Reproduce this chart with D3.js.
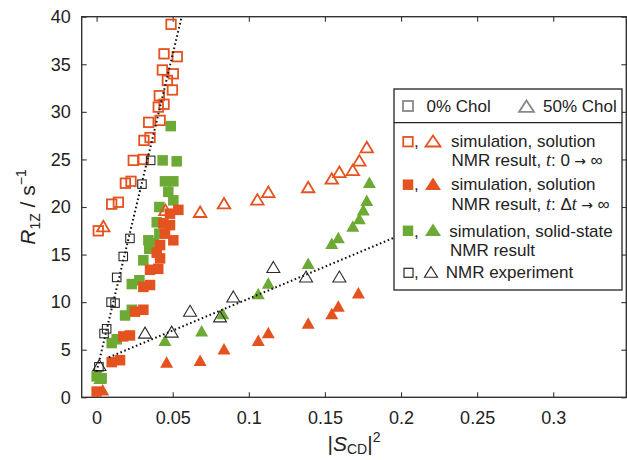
<!DOCTYPE html>
<html><head><meta charset="utf-8">
<script src="https://cdn.jsdelivr.net/npm/d3@7"></script>
<style>
body{margin:0;background:#fff}
svg{display:block}
text{font-family:"Liberation Sans",Arial,Helvetica,sans-serif;fill:#222}
</style>
</head><body>
<svg id="c" width="627" height="460"></svg>
<script>
// ---------- data ----------
const xTicks = [0, 0.05, 0.1, 0.15, 0.2, 0.25, 0.3];
const xTickLabels = ["0", "0.05", "0.1", "0.15", "0.2", "0.25", "0.3"];
const yTicks = [0, 5, 10, 15, 20, 25, 30, 35, 40];

// 0% Chol (squares)
const simSolution0_chol0 = [[0.0011,17.5],[0.0099,20.3],[0.0143,20.5],[0.0189,22.5],[0.0226,22.7],[0.0241,24.9],[0.0307,25.0],[0.0311,27.0],[0.0351,27.3],[0.0342,28.9],[0.0417,29.1],[0.0405,30.5],[0.0443,30.8],[0.0412,31.7],[0.0498,32.3],[0.0465,33.3],[0.0504,34.0],[0.0432,34.4],[0.0443,36.1],[0.0530,35.8],[0.0489,39.2]];
const simSolutionDt_chol0 = [[0.0,0.6],[0.0099,3.7],[0.0154,3.9],[0.0175,6.4],[0.0219,6.5],[0.0252,9.0],[0.0307,9.2],[0.0307,11.6],[0.0351,11.8],[0.0351,13.4],[0.0405,13.5],[0.0417,14.6],[0.0395,15.2],[0.0417,16.0],[0.0449,17.2],[0.0504,16.5],[0.0438,18.3],[0.0482,18.1],[0.0482,19.3],[0.0537,19.7]];
const simSolid_chol0 = [[0.0,2.2],[0.0033,2.0],[0.0099,5.7],[0.0132,6.1],[0.0187,8.6],[0.0231,9.2],[0.0231,11.9],[0.0281,12.3],[0.0307,14.4],[0.0346,15.6],[0.034,16.5],[0.0377,16.2],[0.0412,17.2],[0.0395,18.4],[0.0412,20.0],[0.0504,20.7],[0.0471,21.6],[0.0449,22.7],[0.0504,22.7],[0.0434,24.9],[0.0526,24.8],[0.0487,28.5]];
const nmrExp_chol0 = [[0.0015,3.2],[0.0049,6.7],[0.0066,7.2],[0.0095,10.0],[0.0121,9.9],[0.0132,12.6],[0.0175,14.8],[0.0219,16.7],[0.0298,22.4],[0.0355,24.9]];

// 50% Chol (triangles)
const simSolution0_chol50 = [[0.0044,18.0],[0.0452,19.7],[0.068,19.5],[0.0837,20.4],[0.1056,20.8],[0.1128,21.6],[0.139,22.1],[0.1545,23.0],[0.1595,23.7],[0.1683,23.9],[0.1726,24.9],[0.1775,26.3]];
const simSolutionDt_chol50 = [[0.004,0.8],[0.046,3.7],[0.068,3.9],[0.0837,5.1],[0.1062,6.0],[0.1128,6.8],[0.139,7.8],[0.1545,8.8],[0.1588,9.6],[0.172,11.0]];
const simSolid_chol50 = [[0.0022,2.0],[0.0449,6.0],[0.069,7.0],[0.0829,8.8],[0.1062,10.9],[0.1128,12.0],[0.139,14.1],[0.1545,16.2],[0.1588,16.8],[0.1683,18.0],[0.1726,18.8],[0.1752,19.7],[0.1775,20.7],[0.1792,22.6]];
const nmrExp_chol50 = [[0.0018,3.4],[0.0318,6.8],[0.0493,6.9],[0.0614,9.1],[0.0811,8.5],[0.0898,10.6],[0.1161,13.7],[0.1376,12.7],[0.1595,12.7]];

// dotted linear fits
const fit_chol0 = [[0.0,2.7],[0.0559,40]];
const fit_chol50 = [[0.008,4.2],[0.30,23.8]];

// ---------- layout ----------
const ORANGE = "#E4531F", GREEN = "#6CAA35", BLACK = "#2a2a2a";
const svg = d3.select("#c");
const xDom = [-0.0098, 0.348], yDom = [0, 40];
const x = d3.scaleLinear().domain(xDom).range([81.7, 626.3]);
const y = d3.scaleLinear().domain(yDom).range([397.3, 16.7]);
const L = x(xDom[0]), R = x(xDom[1]), T = y(yDom[1]), B = y(yDom[0]);

// axes (inward ticks)
const axStyle = g => {
  g.select(".domain").remove();
  g.selectAll(".tick line").attr("stroke", "#333").attr("stroke-width", 1.1);
  g.selectAll(".tick text").style("font-size", "18px").attr("fill", "#222");
};
svg.append("g").attr("transform", `translate(0,${B})`)
  .call(d3.axisBottom(x).tickValues(xTicks).tickSize(-5).tickPadding(14)
    .tickFormat((d, i) => xTickLabels[i])).call(axStyle);
svg.append("g").attr("transform", `translate(0,${T})`)
  .call(d3.axisTop(x).tickValues(xTicks).tickSize(-5).tickFormat("")).call(axStyle);
svg.append("g").attr("transform", `translate(${L},0)`)
  .call(d3.axisLeft(y).tickValues(yTicks).tickSize(-5).tickPadding(11)).call(axStyle);
svg.append("g").attr("transform", `translate(${R},0)`)
  .call(d3.axisRight(y).tickValues(yTicks).tickSize(-5).tickFormat("")).call(axStyle);

svg.append("rect").attr("x", L).attr("y", T).attr("width", R - L).attr("height", B - T)
  .attr("fill", "none").attr("stroke", "#333").attr("stroke-width", 1.4);

// ---------- markers ----------
const plot = svg.append("g");
function squares(data, s, fill, stroke, sw) {
  plot.append("g").selectAll("rect").data(data).join("rect")
    .attr("x", d => x(d[0]) - s / 2).attr("y", d => y(d[1]) - s / 2)
    .attr("width", s).attr("height", s)
    .attr("fill", fill).attr("stroke", stroke).attr("stroke-width", sw);
}
function triPath(cx, cy, w, h) {
  return `M${cx},${cy - h / 2}L${cx + w / 2},${cy + h / 2}L${cx - w / 2},${cy + h / 2}Z`;
}
function triangles(data, w, h, fill, stroke, sw) {
  plot.append("g").selectAll("path").data(data).join("path")
    .attr("d", d => triPath(x(d[0]), y(d[1]), w, h))
    .attr("fill", fill).attr("stroke", stroke).attr("stroke-width", sw)
    .attr("stroke-linejoin", "miter");
}
squares(simSolid_chol0, 10.5, GREEN, "none", 0);
squares(simSolutionDt_chol0, 10.5, ORANGE, "none", 0);
squares(simSolution0_chol0, 9.5, "none", ORANGE, 1.8);
squares(nmrExp_chol0, 8.5, "none", BLACK, 1.1);
triangles(simSolid_chol50, 13, 11.5, GREEN, "none", 0);
triangles(simSolutionDt_chol50, 13, 11.5, ORANGE, "none", 0);
triangles(simSolution0_chol50, 12.5, 10.5, "none", ORANGE, 1.8);
triangles(nmrExp_chol50, 13, 11, "none", BLACK, 1.1);

const line = d3.line().x(d => x(d[0])).y(d => y(d[1]));
[fit_chol0, fit_chol50].forEach(f => {
  plot.append("path").attr("d", line(f)).attr("fill", "none")
    .attr("stroke", "#111").attr("stroke-width", 2).attr("stroke-dasharray", "1.6,2.6");
});

// ---------- axis titles ----------
const yl = svg.append("text").attr("transform", "translate(35,207) rotate(-90)")
  .attr("text-anchor", "middle").style("font-size", "21px");
yl.append("tspan").style("font-style", "italic").text("R");
yl.append("tspan").attr("dy", 5).style("font-size", "14px").text("1Z");
yl.append("tspan").attr("dy", -5).text(" / s");
yl.append("tspan").attr("dy", -9).style("font-size", "14px").text("\u22121");

const xl = svg.append("text").attr("x", (L + R) / 2).attr("y", 451)
  .attr("text-anchor", "middle").style("font-size", "21px");
xl.append("tspan").text("|");
xl.append("tspan").style("font-style", "italic").text("S");
xl.append("tspan").attr("dy", 3).style("font-size", "14px").text("CD");
xl.append("tspan").attr("dy", -3).text("|");
xl.append("tspan").attr("dy", -9).style("font-size", "14px").text("2");

// ---------- legend ----------
const lg = svg.append("g");
lg.append("rect").attr("x", 394).attr("y", 89).attr("width", 228).attr("height", 201)
  .attr("fill", "#fff").attr("stroke", "#222").attr("stroke-width", 1.3);
lg.append("line").attr("x1", 394).attr("x2", 622).attr("y1", 122.7).attr("y2", 122.7)
  .attr("stroke", "#222").attr("stroke-width", 1.3);
const lt = (tx, ty) => lg.append("text").attr("x", tx).attr("y", ty).style("font-size", "17px");
const lsq = (cx, cy, s, fill, stroke, sw) => lg.append("rect").attr("x", cx - s / 2).attr("y", cy - s / 2)
  .attr("width", s).attr("height", s).attr("fill", fill).attr("stroke", stroke).attr("stroke-width", sw);
const ltri = (cx, cy, w, h, fill, stroke, sw) => lg.append("path").attr("d", triPath(cx, cy, w, h))
  .attr("fill", fill).attr("stroke", stroke).attr("stroke-width", sw);
const SERIF = "'Liberation Serif','Times New Roman',serif";
const arrow = t => t.append("tspan").style("font-family", "'DejaVu Sans',sans-serif").style("font-size", "14px").text(" \u2192 ");

lsq(408, 106, 10, "none", "#888", 1.8);
lt(426.5, 112.3).text("0% Chol");
ltri(526.5, 106.2, 15, 11.5, "none", "#888", 1.8);
lt(543, 112.3).text("50% Chol");

lsq(408, 141.7, 9.5, "none", ORANGE, 1.8);
lt(414, 146.7).text(",");
ltri(433, 141, 15, 11, "none", ORANGE, 1.8);
lt(451, 146.7).text("simulation, solution");
const t1 = lt(451.5, 166); t1.append("tspan").text("NMR result, ");
t1.append("tspan").style("font-family", SERIF).style("font-style", "italic").style("font-size", "18px").text("t");
t1.append("tspan").text(": 0");
arrow(t1);
t1.append("tspan").text("\u221e");

lsq(408, 184.7, 10.5, ORANGE, "none", 0);
lt(414, 190).text(",");
ltri(433, 183.7, 16, 12.5, ORANGE, "none", 0);
lt(451, 190).text("simulation, solution");
const t2 = lt(451.5, 209.5); t2.append("tspan").text("NMR result, ");
t2.append("tspan").style("font-family", SERIF).style("font-style", "italic").style("font-size", "18px").text("t");
t2.append("tspan").text(": \u0394");
t2.append("tspan").style("font-family", SERIF).style("font-style", "italic").style("font-size", "18px").text("t");
arrow(t2);
t2.append("tspan").text("\u221e");

lsq(408, 230.8, 10.5, GREEN, "none", 0);
lt(414, 236.5).text(",");
ltri(433, 229.8, 16, 12.5, GREEN, "none", 0);
lt(449.3, 236.5).text("simulation, solid-state");
lt(450, 256).text("NMR result");

lsq(408.5, 272.8, 9, "none", BLACK, 1.2);
lt(414, 277.6).text(",");
ltri(431, 272, 13, 10.5, "none", BLACK, 1.2);
lt(445.7, 277.6).text("NMR experiment");
</script>
</body></html>
